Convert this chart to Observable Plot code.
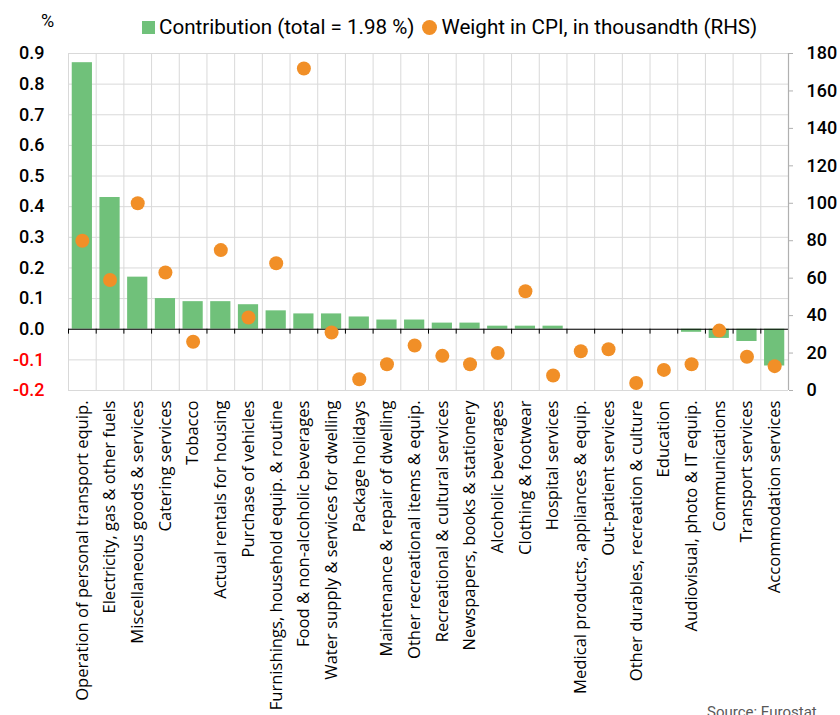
<!DOCTYPE html>
<html><head><meta charset="utf-8">
<script src="https://cdn.jsdelivr.net/npm/d3@7"></script>
<script src="https://cdn.jsdelivr.net/npm/@observablehq/plot@0.6"></script>
<style>
html,body{margin:0;padding:0;background:#fff;overflow:hidden;}
#wrap{position:relative;width:840px;height:715px;font-family:Roboto,sans-serif;color:#000;}
#legend{position:relative;height:40px;}
#pct{position:absolute;left:41px;top:10px;font-size:18px;}
#items{position:absolute;left:142px;top:15px;display:flex;align-items:center;font-size:20.6px;white-space:nowrap;}
.sq{display:inline-block;width:13px;height:13px;background:#70c17a;margin-right:4px;}
.ci{display:inline-block;width:15px;height:15px;border-radius:50%;background:#f18f27;margin-left:8px;margin-right:4px;}
#source{position:absolute;left:707px;top:703px;font-size:15px;color:#595959;white-space:nowrap;}
</style></head><body>
<div id="wrap">
  <div id="legend">
    <span id="pct">%</span>
    <div id="items"><span class="sq"></span><span>Contribution (total = 1.98 %)</span><span class="ci"></span><span>Weight in CPI, in thousandth (RHS)</span></div>
  </div>
  <div id="chart"></div>
  <div id="source">Source: Eurostat</div>
</div>
<script>
const categories = [
  "Operation of personal transport equip.",
  "Electricity, gas & other fuels",
  "Miscellaneous goods & services",
  "Catering services",
  "Tobacco",
  "Actual rentals for housing",
  "Purchase of vehicles",
  "Furnishings, household equip. & routine",
  "Food & non-alcoholic beverages",
  "Water supply & services for dwelling",
  "Package holidays",
  "Maintenance & repair of dwelling",
  "Other recreational items & equip.",
  "Recreational & cultural services",
  "Newspapers, books & stationery",
  "Alcoholic beverages",
  "Clothing & footwear",
  "Hospital services",
  "Medical products, appliances & equip.",
  "Out-patient services",
  "Other durables, recreation & culture",
  "Education",
  "Audiovisual, photo & IT equip.",
  "Communications",
  "Transport services",
  "Accommodation services"
];
const contribution = [0.87,0.43,0.17,0.10,0.09,0.09,0.08,0.06,0.05,0.05,0.04,0.03,0.03,0.02,0.02,0.01,0.01,0.01,0.00,0.00,0.00,0.00,-0.01,-0.03,-0.04,-0.12];
const weight = [80,59,100,63,26,75,39,68,172,31,6,14,24,18.5,14,20,53,8,21,22,4,11,14,32,18,13];
const leftTicks = [-0.2,-0.1,0,0.1,0.2,0.3,0.4,0.5,0.6,0.7,0.8,0.9];
const rightTicks = [0,20,40,60,80,100,120,140,160,180];

const L0 = -0.2, L1 = 0.9, R0 = 0, R1 = 180;
const toLeft = w => L0 + (w - R0) * (L1 - L0) / (R1 - R0);
const fromLeft = l => R0 + (l - L0) * (R1 - R0) / (L1 - L0);

const rows = categories.map((c, i) => ({i, category: c, contribution: contribution[i], weight: weight[i]}));
const boundaries = d3.range(categories.length + 1);
const green = "#70c17a", orange = "#f18f27", grid = "#d9d9d9";

const chart = Plot.plot({
  width: 840, height: 675,
  marginTop: 13, marginBottom: 325, marginLeft: 68, marginRight: 52,
  x: {domain: [0, categories.length], axis: null},
  y: {domain: [L0, L1], axis: null},
  style: {fontFamily: "Roboto, sans-serif", background: "white", overflow: "visible"},
  marks: [
    Plot.ruleY(leftTicks, {y: d => d, stroke: grid, strokeWidth: 1}),
    Plot.ruleX(boundaries, {x: d => d, stroke: grid, strokeWidth: 1}),
    Plot.rectY(rows, {x1: d => d.i + 0.135, x2: d => d.i + 0.865, y: "contribution", fill: green}),
    Plot.ruleY([0], {stroke: "black", strokeWidth: 1.2}),
    Plot.ruleX(boundaries, {x: d => d, y1: 0, y2: -0.016, stroke: "black", strokeWidth: 1}),
    Plot.ruleX([categories.length], {stroke: "#b0b0b0", strokeWidth: 1.2}),
    Plot.dot(rows, {x: d => d.i + 0.5, y: d => toLeft(d.weight), r: 7, fill: orange, stroke: "none"}),
    Plot.axisY({anchor: "left", label: null, ticks: leftTicks.filter(t => t >= 0), tickSize: 0, tickPadding: 24,
      tickFormat: d => d.toFixed(1), fontSize: 18, fontWeight: 500, fill: "black"}),
    Plot.axisY({anchor: "left", label: null, ticks: leftTicks.filter(t => t < 0), tickSize: 0, tickPadding: 24,
      tickFormat: d => d.toFixed(1), fontSize: 18, fontWeight: 500, fill: "#ff0000"}),
    Plot.axisY({anchor: "right", label: null, ticks: rightTicks.map(toLeft), tickSize: 4, tickPadding: 14,
      stroke: "#b0b0b0", tickFormat: d => String(Math.round(fromLeft(d))), fontSize: 18, fontWeight: 500, fill: "black"}),
    Plot.text(rows, {x: d => d.i + 0.5, y: () => L0, text: "category", rotate: -90, textAnchor: "end",
      lineAnchor: "middle", dy: 10, fontSize: 16.6, fontFamily: "'Open Sans', sans-serif", fill: "black"})
  ]
});
document.getElementById("chart").appendChild(chart);
</script>
</body></html>
